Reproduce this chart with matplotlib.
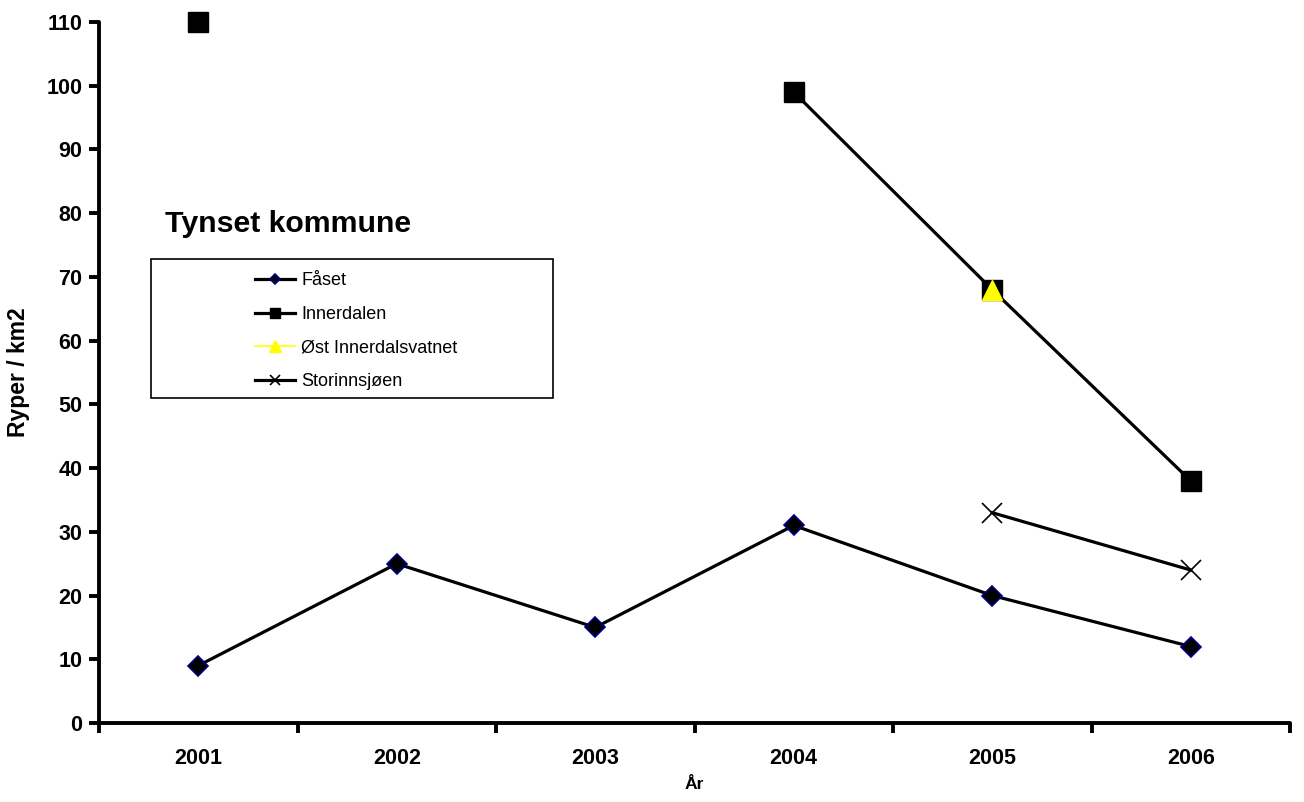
import numpy as np
import matplotlib
matplotlib.use("Agg")
import matplotlib.pyplot as plt
from matplotlib.patches import Rectangle

years = ["2001", "2002", "2003", "2004", "2005", "2006"]
faaset = [9, 25, 15, 31, 20, 12]
innerdalen = [110, np.nan, np.nan, 99, 68, 38]
ost_innerdalsvatnet = [np.nan, np.nan, np.nan, np.nan, 68, np.nan]
storinnsjoen = [np.nan, np.nan, np.nan, np.nan, 33, 24]
yticks = list(range(0, 111, 10))

plt.rcParams['font.family'] = ['Liberation Sans', 'DejaVu Sans']

fig = plt.figure(figsize=(13.04, 8.02), dpi=100)
ax = fig.add_axes([99/1304, 79/802, 1191/1304, 701/802])

x = np.arange(1, len(years) + 1)
l1, = ax.plot(x, faaset, color="black", lw=2.3, marker="D", ms=10,
              mfc="black", mec="#000080", mew=1.2, label="Fåset", clip_on=False)
l2, = ax.plot(x, innerdalen, color="black", lw=2.3, marker="s", ms=14,
              mfc="black", mec="black", label="Innerdalen", clip_on=False)
l3, = ax.plot(x, ost_innerdalsvatnet, color="yellow", lw=1.2, marker="^", ms=15,
              mfc="yellow", mec="yellow", label="Øst Innerdalsvatnet", clip_on=False)
l4, = ax.plot(x, storinnsjoen, color="black", lw=2.3, marker="x", ms=14,
              mew=1.2, label="Storinnsjøen", clip_on=False)

ax.set_xlim(0.5, 6.5)
ax.set_ylim(0, 110)
ax.set_xticks(np.arange(0.5, 6.6, 1))
ax.set_xticklabels([])
ax.set_xticks(x, minor=True)
ax.set_xticklabels(years, minor=True, fontsize=15.5, fontweight="bold")
ax.tick_params(axis="x", which="minor", length=0, pad=18)
ax.tick_params(axis="x", which="major", length=7, width=2.8, direction="out")
ax.set_yticks(yticks)
ax.set_yticklabels([str(v) for v in yticks], fontsize=15.5, fontweight="bold")
ax.tick_params(axis="y", length=7, width=2.8, direction="out", pad=5)

for s in ["top", "right"]:
    ax.spines[s].set_visible(False)
for s in ["left", "bottom"]:
    ax.spines[s].set_linewidth(2.8)
    ax.spines[s].set_capstyle("round")

ax.set_ylabel("Ryper / km2", fontsize=16.5, fontweight="bold", labelpad=12)
ax.set_xlabel("År", fontsize=12.5, fontweight="bold", labelpad=6)

fig.text(165/1304, 1 - 224/802, "Tynset kommune", fontsize=21.8, fontweight="bold",
         va="center", ha="left")

# legend frame drawn separately (Excel-style wide box)
fig.patches.append(Rectangle((151/1304, 1 - 398/802), 402/1304, 139/802,
                             transform=fig.transFigure, fill=False,
                             ec="black", lw=1.2))
leg = fig.legend(handles=[l1, l2, l3, l4], loc="upper left",
                 bbox_to_anchor=(246/1304, 1 - 263/802), frameon=False,
                 fontsize=13, markerscale=0.55, handlelength=2.2,
                 handletextpad=0.35, labelspacing=0.93, borderpad=0)

fig.savefig("out.png", dpi=100)
